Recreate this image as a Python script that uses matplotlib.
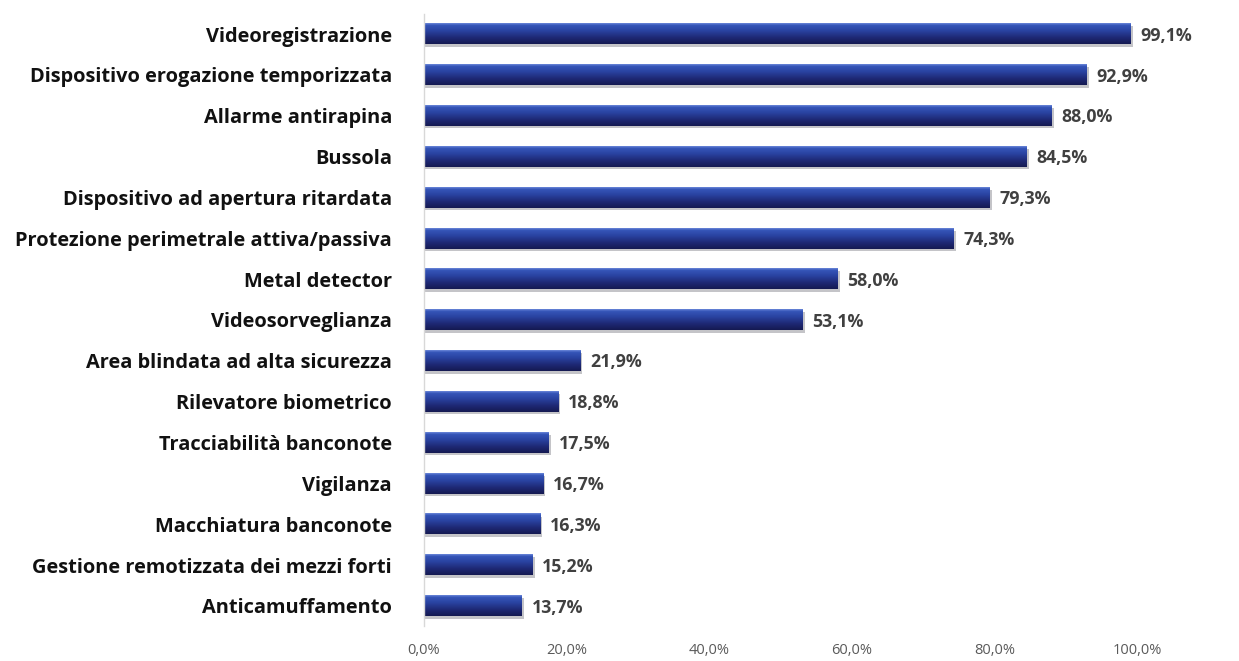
import matplotlib.pyplot as plt
import numpy as np
from matplotlib.colors import LinearSegmentedColormap

categories = [
    "Videoregistrazione",
    "Dispositivo erogazione temporizzata",
    "Allarme antirapina",
    "Bussola",
    "Dispositivo ad apertura ritardata",
    "Protezione perimetrale attiva/passiva",
    "Metal detector",
    "Videosorveglianza",
    "Area blindata ad alta sicurezza",
    "Rilevatore biometrico",
    "Tracciabilità banconote",
    "Vigilanza",
    "Macchiatura banconote",
    "Gestione remotizzata dei mezzi forti",
    "Anticamuffamento",
]
values = [99.1, 92.9, 88.0, 84.5, 79.3, 74.3, 58.0, 53.1, 21.9, 18.8, 17.5, 16.7, 16.3, 15.2, 13.7]
xticks = [0, 20, 40, 60, 80, 100]

plt.rcParams["font.family"] = ["Open Sans", "DejaVu Sans"]

fig = plt.figure(figsize=(12.39, 6.61), dpi=100)
ax = fig.add_axes([424 / 1239, 1 - 626.4 / 661, (1137 - 424) / 1239, (626.4 - 13.6) / 661])

# vertical gradient for the bars: light edge at top, navy at bottom
cmap = LinearSegmentedColormap.from_list(
    "bar", [(0.0, "#6a86d8"), (0.1, "#3555b8"), (0.35, "#2a44a2"), (0.7, "#1e2874"), (1.0, "#151a52")]
)
grad = np.linspace(0, 1, 64).reshape(-1, 1)
h = 0.5
y = np.arange(len(categories))

for yi, v in zip(y, values):
    # shadow
    ax.barh(yi + 0.06, v + 0.3, height=h, left=0, color="#c4c4c8", zorder=1)
    ax.imshow(grad, cmap=cmap, aspect="auto", extent=(0, v, yi + h / 2, yi - h / 2), zorder=2)
    ax.text(v + 1.4, yi + 0.04, f"{v:.1f}%".replace(".", ","), va="center", ha="left",
            fontsize=12.8, fontweight="bold", color="#404040", clip_on=False)

ax.set_xlim(0, 100)
ax.set_ylim(len(categories) - 0.5, -0.5)
ax.set_yticks(y)
ax.set_yticklabels(categories, fontsize=14.4, fontweight="bold", color="#111111")
ax.set_xticks(xticks)
ax.set_xticklabels([f"{t:.1f}%".replace(".", ",") for t in xticks], fontsize=10.5, color="#5a5a5a")
ax.tick_params(axis="y", length=0, pad=23)
ax.tick_params(axis="x", length=0, pad=12)
for s in ["top", "right", "bottom"]:
    ax.spines[s].set_visible(False)
ax.spines["left"].set_color("#d8d8d8")
ax.spines["left"].set_linewidth(1.0)

fig.savefig("out.png", dpi=100, facecolor="white")
